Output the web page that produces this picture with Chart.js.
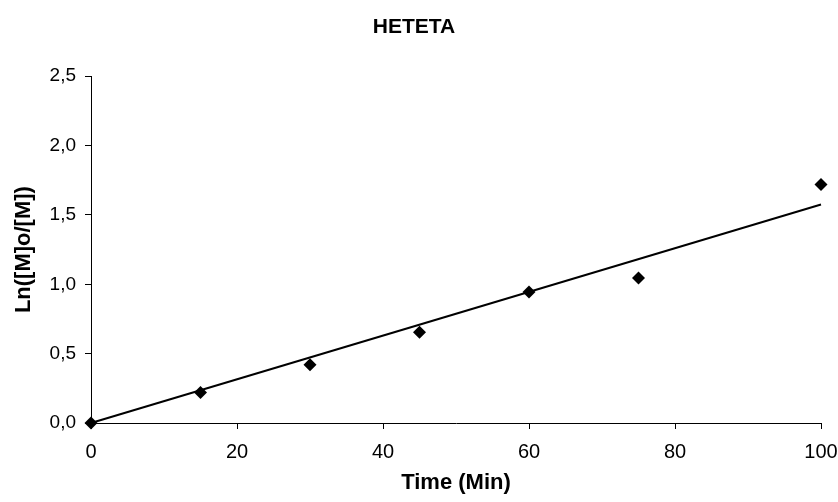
<!DOCTYPE html>
<html>
<head>
<meta charset="utf-8">
<script src="https://cdn.jsdelivr.net/npm/chart.js@4"></script>
<style>
  html, body { margin: 0; padding: 0; background: #ffffff; }
  #wrap { width: 838px; height: 502px; }
</style>
</head>
<body>
<div id="wrap"><canvas id="c" width="838" height="502"></canvas></div>
<script>
// Measured conversion: time (min) and ln([M]o/[M])
const times = [0, 15, 30, 45, 60, 75, 100];
const lnRatio = [0, 0.22, 0.42, 0.655, 0.945, 1.045, 1.72];

// Linear trend line through the origin (end points)
const trendTimes = [0, 100];
const trendValues = [0, 1.575];

// Axis tick labels (decimal comma)
const xTicks = [0, 20, 40, 60, 80, 100];
const yTickLabels = ['0,0', '0,5', '1,0', '1,5', '2,0', '2,5'];

const FONT = '"Liberation Sans", Arial, sans-serif';

new Chart(document.getElementById('c'), {
  type: 'scatter',
  data: {
    datasets: [
      {
        label: 'Trend',
        type: 'line',
        data: trendTimes.map((t, i) => ({ x: t, y: trendValues[i] })),
        borderColor: '#000000',
        borderWidth: 2,
        pointRadius: 0,
        fill: false,
        clip: false,
        order: 2
      },
      {
        label: 'HETETA',
        data: times.map((t, i) => ({ x: t, y: lnRatio[i] })),
        pointStyle: 'rectRot',
        pointRadius: 6.5,
        pointBackgroundColor: '#000000',
        pointBorderColor: '#000000',
        pointBorderWidth: 0,
        clip: false,
        order: 1
      }
    ]
  },
  options: {
    responsive: false,
    animation: false,
    devicePixelRatio: 1,
    layout: { padding: { left: 7, right: 17, top: 0, bottom: 0 } },
    plugins: {
      legend: { display: false },
      tooltip: { enabled: false },
      title: {
        display: true,
        text: 'HETETA',
        color: '#000000',
        font: { family: FONT, size: 21, weight: 'bold' },
        padding: { top: 15, bottom: 36 }
      }
    },
    scales: {
      x: {
        type: 'linear',
        min: 0,
        max: 100,
        afterBuildTicks: (scale) => { scale.ticks = xTicks.map(v => ({ value: v })); },
        afterFit: (scale) => {
          scale.height = 79;
          scale.paddingRight = 0;
          scale.paddingLeft = 0;
        },
        ticks: {
          color: '#000000',
          font: { family: FONT, size: 20 },
          padding: 11,
          maxRotation: 0
        },
        grid: {
          display: true,
          drawOnChartArea: false,
          drawTicks: true,
          tickLength: 6,
          color: '#000000'
        },
        border: { display: true, color: '#000000', width: 1 },
        title: {
          display: true,
          text: 'Time (Min)',
          color: '#000000',
          font: { family: FONT, size: 22, weight: 'bold' },
          padding: { top: 4, bottom: 6 }
        }
      },
      y: {
        type: 'linear',
        min: 0,
        max: 2.5,
        afterFit: (scale) => { scale.width = 84; },
        ticks: {
          stepSize: 0.5,
          color: '#000000',
          font: { family: FONT, size: 19 },
          padding: 9,
          callback: (v) => yTickLabels[Math.round(v / 0.5)]
        },
        grid: {
          display: true,
          drawOnChartArea: false,
          drawTicks: true,
          tickLength: 6,
          color: '#000000'
        },
        border: { display: true, color: '#000000', width: 1 },
        title: {
          display: true,
          text: 'Ln([M]o/[M])',
          color: '#000000',
          font: { family: FONT, size: 22, weight: 'bold' },
          padding: { top: 4, bottom: 4 }
        }
      }
    }
  }
});
</script>
</body>
</html>
